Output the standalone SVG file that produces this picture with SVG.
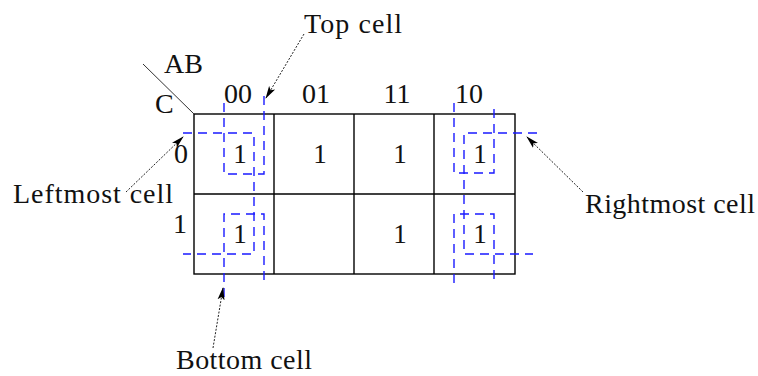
<svg xmlns="http://www.w3.org/2000/svg" width="758" height="376" viewBox="0 0 758 376">
  <style>
    .t { font-family: "Liberation Serif", "Times New Roman", serif; font-size: 28px; fill: #111; }
    .v { font-family: "Liberation Serif", "Times New Roman", serif; font-size: 27px; fill: #111; text-anchor: middle; }
    .grid { fill: none; stroke: #000; stroke-width: 1.4; }
    .blue { fill: none; stroke: #1a1aff; stroke-width: 1.4; stroke-dasharray: 9 6; }
    .arrow { fill: none; stroke: #222; stroke-width: 1; stroke-dasharray: 2 1.5; marker-end: url(#ah); }
  </style>
  <defs>
    <marker id="ah" viewBox="0 0 13 9" refX="12" refY="4.5" markerWidth="13" markerHeight="9" markerUnits="userSpaceOnUse" orient="auto">
      <path d="M0,1 L13,4.5 L0,8 L3,4.5 Z" fill="#000"/>
    </marker>
  </defs>
  <rect width="758" height="376" fill="#fff"/>

  <g id="kmap">
    <rect class="grid" x="194" y="114" width="321" height="160"/>
    <line class="grid" x1="194" y1="194" x2="515" y2="194"/>
    <line class="grid" x1="274" y1="114" x2="274" y2="274"/>
    <line class="grid" x1="354" y1="114" x2="354" y2="274"/>
    <line class="grid" x1="434" y1="114" x2="434" y2="274"/>
    <line x1="143" y1="64" x2="194" y2="114" stroke="#333" stroke-width="1"/>
    <text class="t" x="164" y="73">AB</text>
    <text class="t" x="155" y="113">C</text>
    <text class="t" x="238" y="103" text-anchor="middle">00</text>
    <text class="t" x="316" y="103" text-anchor="middle">01</text>
    <text class="t" x="397" y="103" text-anchor="middle">11</text>
    <text class="t" x="469" y="103" text-anchor="middle">10</text>
    <text class="t" x="181" y="163" text-anchor="middle">0</text>
    <text class="t" x="180" y="233" text-anchor="middle">1</text>
    <text class="v" x="240" y="163">1</text>
    <text class="v" x="320" y="163">1</text>
    <text class="v" x="400" y="163">1</text>
    <text class="v" x="480" y="163">1</text>
    <text class="v" x="240" y="243">1</text>
    <text class="v" x="400" y="243">1</text>
    <text class="v" x="480" y="243">1</text>
  </g>

  <g id="groups">
    <path class="blue" d="M183,133 H254 V254 H183"/>
    <path class="blue" d="M224,103 V174 H264 V95"/>
    <path class="blue" d="M224,297 V214 H264 V283"/>
    <path class="blue" d="M537,133 H464 V254 H533"/>
    <path class="blue" d="M454,103 V173 H494 V103"/>
    <path class="blue" d="M454,283 V214 H494 V283"/>
  </g>

  <g id="top-cell"><text class="t" x="304" y="33" textLength="98" lengthAdjust="spacing">Top cell</text></g>
  <g id="leftmost-cell"><text class="t" x="13" y="203" textLength="160" lengthAdjust="spacing">Leftmost cell</text></g>
  <g id="rightmost-cell"><text class="t" x="585" y="213" textLength="170" lengthAdjust="spacing">Rightmost cell</text></g>
  <g id="bottom-cell"><text class="t" x="176" y="369" textLength="136" lengthAdjust="spacing">Bottom cell</text></g>

  <g id="connectors">
    <path class="arrow" d="M304,34 L266,98"/>
    <path class="arrow" d="M126,192 L183,137"/>
    <path class="arrow" d="M583,192 L527,137"/>
    <path class="arrow" d="M213,348 L223,288"/>
  </g>
</svg>
